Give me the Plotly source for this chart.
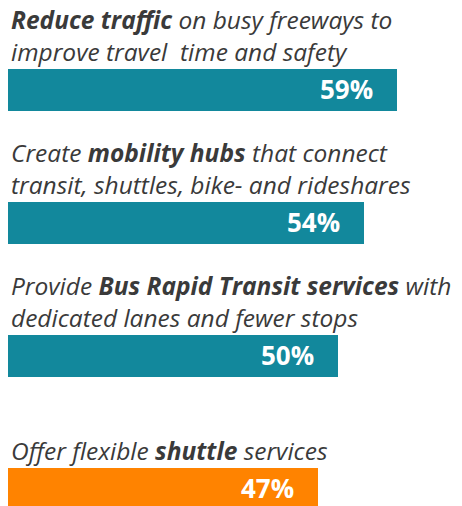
import plotly.graph_objects as go

labels = [
    "<b>Reduce traffic</b> on busy freeways to<br>improve travel  time and safety",
    "Create <b>mobility hubs</b> that connect<br>transit, shuttles, bike- and rideshares",
    "Provide <b>Bus Rapid Transit services</b> with<br>dedicated lanes and fewer stops",
    "Offer flexible <b>shuttle</b> services",
]
values = [59, 54, 50, 47]
colors = ["#12889C", "#12889C", "#12889C", "#FF8300"]

pos = list(range(len(values)))
bar_w = 0.316

fig = go.Figure(go.Bar(
    x=values, y=pos, orientation="h", marker=dict(color=colors, line=dict(width=0)),
    width=bar_w, hoverinfo="skip",
))

annotations = []
for i, (lab, v) in enumerate(zip(labels, values)):
    annotations.append(dict(
        x=0, y=i - bar_w / 2, xref="x", yref="y", text="<i>" + lab + "</i>",
        xanchor="left", yanchor="bottom", align="left", showarrow=False,
        xshift=1, yshift=-1,
        font=dict(family="Open Sans", size=24.5, color="#3A3A3A"),
    ))
    annotations.append(dict(
        x=v, y=i, xref="x", yref="y", text="<b>%d%%</b>" % v,
        xanchor="right", yanchor="middle", showarrow=False, xshift=-22, yshift=1,
        font=dict(family="Open Sans", size=26, color="white"),
    ))

fig.update_layout(
    width=462, height=506, margin=dict(l=0, r=0, t=0, b=0),
    paper_bgcolor="white", plot_bgcolor="white", showlegend=False,
    xaxis=dict(range=[-1.2, 68.8], visible=False, fixedrange=True),
    yaxis=dict(range=[3.128, -0.677], visible=False, fixedrange=True),
    annotations=annotations, bargap=0,
)
fig.write_html("out.html", config={"displayModeBar": False},
               post_script="document.body.style.margin='0';")
